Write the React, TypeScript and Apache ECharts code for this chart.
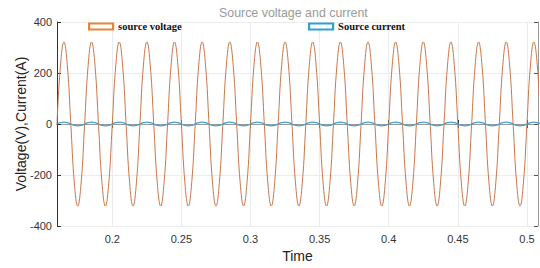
import React, { useEffect, useRef } from "react";
import * as echarts from "echarts";

// Sampling of the time axis (s): eighth-period samples of a 50 Hz waveform
const T0 = 0.16;
const DT = 0.0025;

// Source voltage (V) at each sample
const voltage = [
  0, 228, 322, 228, 0, -228, -322, -228,
  0, 228, 322, 228, 0, -228, -322, -228,
  0, 228, 322, 228, 0, -228, -322, -228,
  0, 228, 322, 228, 0, -228, -322, -228,
  0, 228, 322, 228, 0, -228, -322, -228,
  0, 228, 322, 228, 0, -228, -322, -228,
  0, 228, 322, 228, 0, -228, -322, -228,
  0, 228, 322, 228, 0, -228, -322, -228,
  0, 228, 322, 228, 0, -228, -322, -228,
  0, 228, 322, 228, 0, -228, -322, -228,
  0, 228, 322, 228, 0, -228, -322, -228,
  0, 228, 322, 228, 0, -228, -322, -228,
  0, 228, 322, 228, 0, -228, -322, -228,
  0, 228, 322, 228, 0, -228, -322, -228,
  0, 228, 322, 228, 0, -228, -322, -228,
  0, 228, 322, 228, 0, -228, -322, -228,
  0, 228, 322, 228, 0, -228, -322, -228,
  0, 228, 322, 228, 0,
];

// Source current (A) at each sample
const current = [
  0, 5, 7, 5, 0, -5, -7, -5,
  0, 5, 7, 5, 0, -5, -7, -5,
  0, 5, 7, 5, 0, -5, -7, -5,
  0, 5, 7, 5, 0, -5, -7, -5,
  0, 5, 7, 5, 0, -5, -7, -5,
  0, 5, 7, 5, 0, -5, -7, -5,
  0, 5, 7, 5, 0, -5, -7, -5,
  0, 5, 7, 5, 0, -5, -7, -5,
  0, 5, 7, 5, 0, -5, -7, -5,
  0, 5, 7, 5, 0, -5, -7, -5,
  0, 5, 7, 5, 0, -5, -7, -5,
  0, 5, 7, 5, 0, -5, -7, -5,
  0, 5, 7, 5, 0, -5, -7, -5,
  0, 5, 7, 5, 0, -5, -7, -5,
  0, 5, 7, 5, 0, -5, -7, -5,
  0, 5, 7, 5, 0, -5, -7, -5,
  0, 5, 7, 5, 0, -5, -7, -5,
  0, 5, 7, 5, 0,
];

const xTicks = [0.2, 0.25, 0.3, 0.35, 0.4, 0.45, 0.5];
const seriesNames = ["source voltage", "Source current"];
const title = "Source voltage and current";
const xName = "Time";
const yName = "Voltage(V),Current(A)";

export default function App() {
  const ref = useRef<HTMLDivElement>(null);
  useEffect(() => {
    if (!ref.current) return;
    const chart = echarts.init(ref.current, null, { renderer: "svg" });
    const vData = voltage.map((v, i) => [+(T0 + i * DT).toFixed(4), v]);
    const cData = current.map((v, i) => [+(T0 + i * DT).toFixed(4), v]);
    const legendText = {
      fontFamily: "Liberation Serif",
      fontWeight: "bold" as const,
      fontSize: 10.5,
      color: "#111",
    };
    chart.setOption({
      animation: false,
      title: {
        text: title,
        left: 214,
        top: 2,
        textStyle: { fontFamily: "Liberation Sans", fontSize: 12.4, fontWeight: "normal", color: "#9a9a9a" },
      },
      legend: [
        {
          data: [{ name: seriesNames[0], itemStyle: { color: "#fff", borderColor: "#e8833a", borderWidth: 2.2 } }],
          icon: "rect",
          left: 88,
          top: 21,
          itemWidth: 24,
          itemHeight: 6,
          itemGap: 4,
          padding: 0,
          textStyle: legendText,
        },
        {
          data: [{ name: seriesNames[1], itemStyle: { color: "#fff", borderColor: "#2f9fd6", borderWidth: 2.2 } }],
          icon: "rect",
          left: 308,
          top: 21,
          itemWidth: 24,
          itemHeight: 6,
          itemGap: 4,
          padding: 0,
          textStyle: legendText,
        },
      ],
      grid: { left: 57, right: 2, top: 22, bottom: 39 },
      xAxis: [
        {
          type: "value",
          min: 0.16,
          max: 0.508,
          name: xName,
          nameLocation: "middle",
          nameGap: 23,
          nameMoveOverlap: false,
          nameTextStyle: { fontFamily: "Liberation Sans", fontSize: 14, color: "#222" },
          axisLine: { lineStyle: { color: "#333", width: 1 } },
          axisTick: { inside: true, length: 4, customValues: xTicks, lineStyle: { color: "#333" } },
          axisLabel: {
            customValues: xTicks,
            fontFamily: "Liberation Sans",
            fontSize: 11,
            color: "#333",
            margin: 7,
          },
          splitLine: { show: true, lineStyle: { color: "#ececec", width: 1 } },
        },
        {
          type: "value",
          position: "top",
          min: 0.16,
          max: 0.508,
          axisLine: { show: true, lineStyle: { color: "#999", width: 1 } },
          axisTick: { inside: true, length: 4, customValues: xTicks, lineStyle: { color: "#555" } },
          axisLabel: { show: false },
          splitLine: { show: false },
        },
      ],
      yAxis: [
        {
          type: "value",
          min: -400,
          max: 400,
          interval: 200,
          name: yName,
          nameLocation: "middle",
          nameGap: 29,
          nameMoveOverlap: false,
          nameTextStyle: { fontFamily: "Liberation Sans", fontSize: 14, color: "#222" },
          axisLine: { show: true, lineStyle: { color: "#333", width: 1 } },
          axisTick: { show: true, inside: true, length: 4, lineStyle: { color: "#333" } },
          axisLabel: { fontFamily: "Liberation Sans", fontSize: 11, color: "#333", margin: 5 },
          splitLine: { show: true, lineStyle: { color: "#ececec", width: 1 } },
        },
        {
          type: "value",
          position: "right",
          min: -400,
          max: 400,
          interval: 200,
          axisLine: { show: true, lineStyle: { color: "#999", width: 1 } },
          axisTick: { show: true, inside: true, length: 4, lineStyle: { color: "#555" } },
          axisLabel: { show: false },
          splitLine: { show: false },
        },
      ],
      series: [
        {
          name: seriesNames[0],
          type: "line",
          data: vData,
          smooth: 0.45,
          showSymbol: false,
          lineStyle: { color: "#c7784a", width: 1 },
          itemStyle: { color: "#e8833a" },
          z: 2,
        },
        {
          name: seriesNames[1],
          type: "line",
          data: cData,
          smooth: 0.45,
          showSymbol: false,
          lineStyle: { color: "#4aa0cc", width: 1.3 },
          itemStyle: { color: "#2f9fd6" },
          z: 3,
        },
      ],
    });
    return () => chart.dispose();
  }, []);
  return <div ref={ref} style={{ width: 540, height: 268, position: "absolute", left: 0, top: 0 }} />;
}
